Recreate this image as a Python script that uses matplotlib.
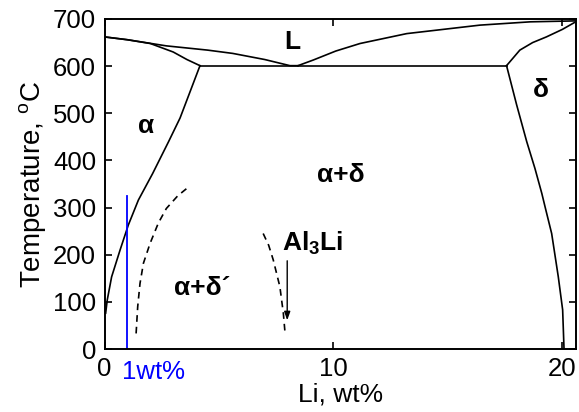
import matplotlib
matplotlib.use('Agg')
import matplotlib.pyplot as plt

plt.rcParams['font.family'] = ['Liberation Sans', 'DejaVu Sans']
plt.rcParams['mathtext.fontset'] = 'custom'
plt.rcParams['mathtext.rm'] = 'Liberation Sans'
plt.rcParams['mathtext.bf'] = 'Liberation Sans:bold'

# phase boundaries, Li wt% vs temperature (C)
liq_left_x = [0.0, 1.0, 2.7, 4.5, 5.6, 7.0, 8.1, 8.45]
liq_left_t = [662, 656, 643, 634, 627, 614, 601, 601]
sol_alpha_x = [0.0, 1.0, 2.0, 3.0, 3.6, 4.17]
sol_alpha_t = [662, 656, 648, 630, 614, 601]
solvus_alpha_x = [4.17, 3.3, 2.8, 2.1, 1.48, 1.04, 0.68, 0.31, 0.12, 0.05]
solvus_alpha_t = [601, 490, 440, 372, 316, 263, 210, 153, 104, 76]
eutectic_x = [4.17, 17.56]
eutectic_t = [601, 601]
liq_right_x = [8.45, 9.12, 10.1, 11.16, 13.2, 16.4, 18.6, 20.58]
liq_right_t = [601, 613, 632, 648, 669, 687, 694, 696]
sol_delta_x = [17.56, 18.14, 18.7, 19.3, 20.0, 20.58]
sol_delta_t = [601, 634, 650, 662, 678, 694]
solvus_delta_x = [17.56, 18.0, 18.44, 18.8, 19.1, 19.25, 19.53, 19.82, 20.01, 20.07]
solvus_delta_t = [601, 518, 440, 383, 330, 300, 245, 153, 83, 0]
dprime_left_x = [1.38, 1.45, 1.55, 1.7, 1.99, 2.35, 2.7, 3.2, 3.73]
dprime_left_t = [33, 90, 139, 182, 224, 267, 298, 325, 346]
dprime_right_x = [6.93, 7.17, 7.37, 7.66, 7.81, 7.88]
dprime_right_t = [245, 220, 189, 132, 76, 37]
alloy_x = 1.0
alloy_tmax = 325

xticks = [0, 10, 20]
yticks = [0, 100, 200, 300, 400, 500, 600, 700]

fig = plt.figure(figsize=(5.79, 4.12), dpi=100)
ax = fig.add_axes([0.1805, 0.1529, 0.8138, 0.801])

lw = 1.2
for xs, ts in [(liq_left_x, liq_left_t), (sol_alpha_x, sol_alpha_t),
               (solvus_alpha_x, solvus_alpha_t), (eutectic_x, eutectic_t),
               (liq_right_x, liq_right_t), (sol_delta_x, sol_delta_t),
               (solvus_delta_x, solvus_delta_t)]:
    ax.plot(xs, ts, color='black', lw=lw)
for xs, ts in [(dprime_left_x, dprime_left_t), (dprime_right_x, dprime_right_t)]:
    ax.plot(xs, ts, color='black', lw=lw, linestyle=(0, (4, 3)))

ax.plot([alloy_x, alloy_x], [0, alloy_tmax], color='#0000ff', lw=1.3)

ax.set_xlim(0, 20.58)
ax.set_ylim(0, 700)
ax.set_xticks(xticks)
ax.set_yticks(yticks)
ax.tick_params(direction='in', top=True, right=True, length=5, width=1.2,
               labelsize=18.5, pad=6)
for s in ax.spines.values():
    s.set_linewidth(1.4)

ax.set_xlabel('Li, wt%', fontsize=19, labelpad=1)
ax.set_ylabel('Temperature, $^{\\rm o}$C', fontsize=20, labelpad=3)

ax.annotate('1wt%', xy=(0.76, 0), xycoords=('data', 'axes fraction'),
            xytext=(0, -8), textcoords='offset points', ha='left', va='top',
            fontsize=18.5, color='#0000ff')

bold = dict(fontsize=19, fontweight='bold', ha='center', va='center')
ax.text(8.2, 651, 'L', **bold)
ax.text(1.8, 473, 'α', **bold)
ax.text(19.07, 549, 'δ', **bold)
ax.text(10.3, 369, 'α+δ', **bold)
ax.text(4.27, 129, 'α+δ´', **bold)
ax.text(7.75, 225, 'Al$_\\mathbf{3}$Li', fontsize=19, fontweight='bold',
        ha='left', va='center')

ax.annotate('', xy=(7.98, 55), xytext=(7.98, 193),
            arrowprops=dict(arrowstyle='-|>,head_length=0.5,head_width=0.18',
                            color='black', lw=1.0))

fig.savefig('out.png', dpi=100)
